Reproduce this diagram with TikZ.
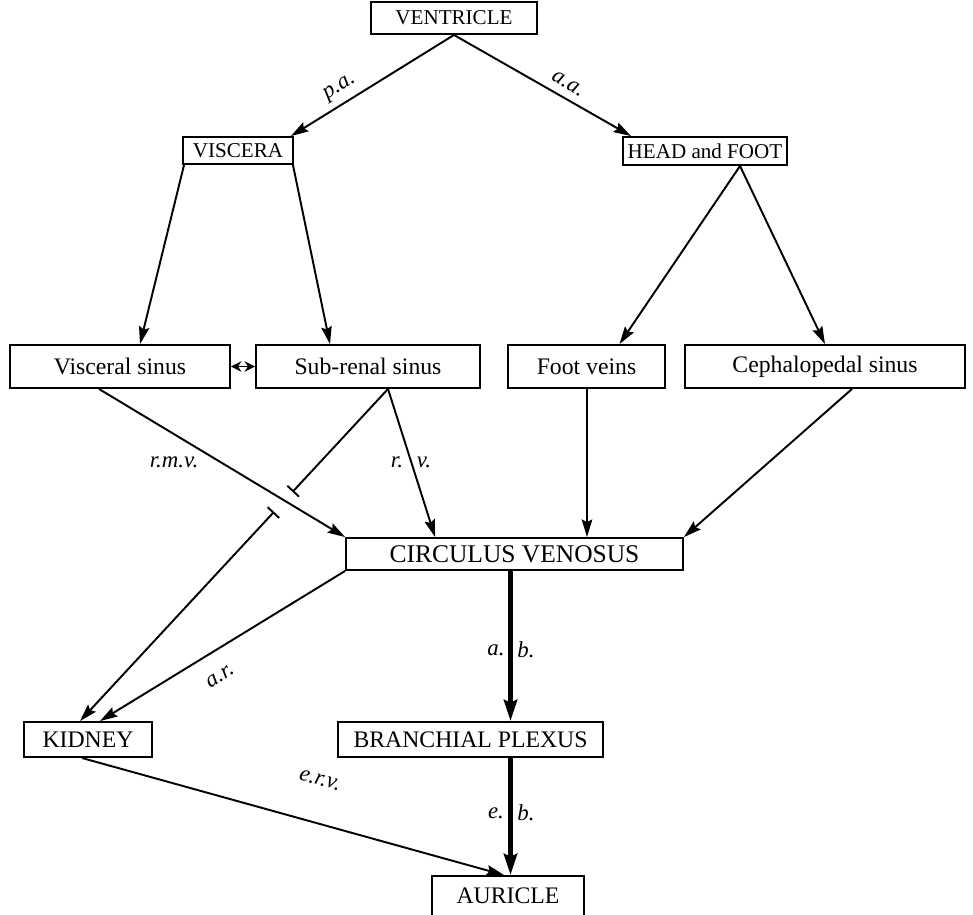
\documentclass[tikz,border=0pt]{standalone}
\usepackage{fontspec}
\setmainfont{Liberation Serif}
\usetikzlibrary{arrows.meta,calc}

\begin{document}
\begin{tikzpicture}[x=0.02cm,y=-0.02cm,
  box/.style={draw,line width=1.1pt,inner sep=0pt,font=\fontsize{13.5}{16}\selectfont},
  smallbox/.style={box,font=\fontsize{12}{14}\selectfont},
  lbl/.style={font=\itshape\fontsize{13}{15}\selectfont,inner sep=1pt},
  link/.style={line width=1.1pt,-{Stealth[length=10pt,width=6pt,inset=1.5pt]}},
  heavy/.style={line width=2.6pt,-{Stealth[length=12pt,width=7.5pt,inset=1.5pt]}}]
  \clip (0,0) rectangle (973,914);
  % boxes
  \node[smallbox,minimum width=3.32cm,minimum height=0.64cm] (ven) at (454,18) {VENTRICLE};
  \node[smallbox,minimum width=2.2cm,minimum height=0.54cm] (visc) at (238,150.5) {VISCERA};
  \node[smallbox,minimum width=3.28cm,minimum height=0.56cm] (hf) at (705,151) {HEAD and FOOT};
  \node[box,minimum width=4.4cm,minimum height=0.86cm] (vs) at (120,366.5) {Visceral sinus};
  \node[box,minimum width=4.48cm,minimum height=0.86cm] (srs) at (368,366.5) {Sub-renal sinus};
  \node[box,minimum width=3.14cm,minimum height=0.86cm] (fv) at (586.5,366.5) {Foot veins};
  \node[box,minimum width=5.6cm,minimum height=0.86cm] (cs) at (825,366.5) {Cephalopedal sinus};
  \node[box,minimum width=6.74cm,minimum height=0.64cm,font=\fontsize{14.5}{17}\selectfont] (cv) at (514.5,554) {CIRCULUS VENOSUS};
  \node[box,minimum width=2.56cm,minimum height=0.7cm] (kid) at (88,739.5) {KIDNEY};
  \node[box,minimum width=5.3cm,minimum height=0.7cm] (bp) at (470.5,739.5) {BRANCHIAL PLEXUS};
  \node[box,minimum width=3.04cm,minimum height=0.8cm] (aur) at (508,896) {AURICLE};
  % vessels
  \draw[link] (ven.south) -- ($(visc.north east)+(-3,0)$);
  \draw[link] (ven.south) -- ($(hf.north west)+(9,0)$);
  \draw[link] ($(visc.south west)+(2,0)$) -- ($(vs.north)+(20,0)$);
  \draw[link] ($(visc.south east)+(-1,0)$) -- ($(srs.north)+(-38,0)$);
  \draw[link] ($(hf.south)+(35,0)$) -- ($(fv.north)+(33,0)$);
  \draw[link] ($(hf.south)+(35,0)$) -- (cs.north);
  \draw[line width=1.1pt,{Stealth[length=6pt,width=6pt]}-{Stealth[length=6pt,width=6pt]}] (vs.east) -- (srs.west);
  \draw[link] ($(vs.south)+(-21,0)$) -- (cv.north west);
  \draw[link] ($(srs.south)+(20,0)$) -- ($(cv.north west)+(90,0)$);
  \coordinate (srsb) at ($(srs.south)+(20,0)$);
  \coordinate (kidt) at ($(kid.north)+(-8,0)$);
  \draw[line width=1.1pt,-{Bar[width=9pt]}] (srsb) -- ($(srsb)!0.31!(kidt)$);
  \draw[line width=1.1pt,{Bar[width=9pt]}-{Stealth[length=10pt,width=6pt,inset=1.5pt]}] ($(srsb)!0.37!(kidt)$) -- (kidt);
  \draw[link] (cv.south west) -- ($(kid.north)+(12,0)$);
  \draw[link] ($(fv.south)+(0.5,0)$) -- ($(fv.south |- cv.north)+(0.5,0)$);
  \draw[link] ($(cs.south)+(27,0)$) -- (cv.north east);
  \draw[heavy] ($(cv.south)+(-4,0)$) -- ($(cv.south |- bp.north)+(-4,0)$);
  \draw[heavy] ($(cv.south |- bp.south)+(-4,0)$) -- ($(cv.south |- aur.north)+(-4,0)$);
  \draw[link] ($(kid.south)+(-6,0)$) -- ($(aur.north)+(-4,0)$);
  % labels
  \node[lbl,rotate=32] (pa) at (340,88) {p.a.};
  \node[lbl,rotate=-30] (aa) at (568,84) {a.a.};
  \node[lbl] (rmv) at (174,462) {r.m.v.};
  \node[lbl] (rv1) at (397,462) {r.};
  \node[lbl] (rv2) at (424,462) {v.};
  \node[lbl,rotate=31] (ar) at (220,676) {a.r.};
  \node[lbl] (ab1) at (496,650) {a.};
  \node[lbl] (ab2) at (526,650) {b.};
  \node[lbl] (eb1) at (496,813) {e.};
  \node[lbl] (eb2) at (526,813) {b.};
  \node[lbl,rotate=-16] (erv) at (320,780) {e.r.v.};
\end{tikzpicture}
\end{document}
